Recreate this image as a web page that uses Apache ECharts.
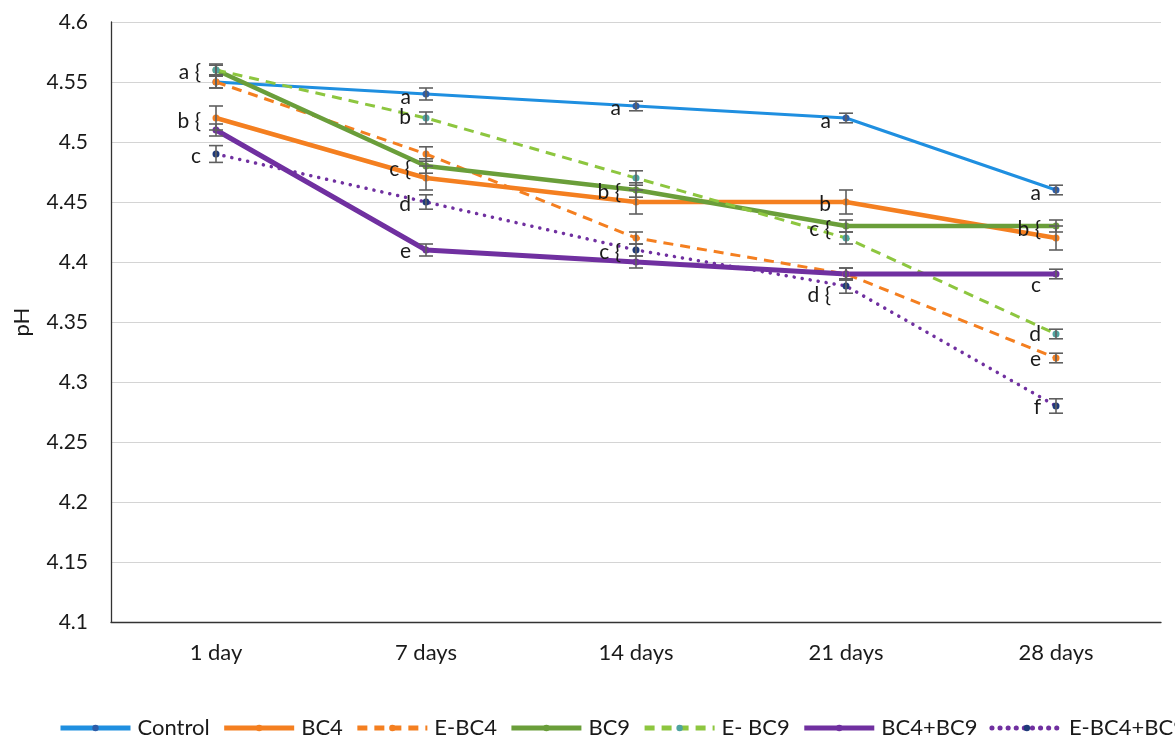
<!DOCTYPE html>
<html><head><meta charset="utf-8">
<script src="https://cdn.jsdelivr.net/npm/echarts@6/dist/echarts.min.js"></script>
<style>html,body{margin:0;padding:0;background:#fff}#c{width:1175px;height:735px}</style>
</head><body><div id="c"></div>
<script>
const categories = ['1 day','7 days','14 days','21 days','28 days'];
const seriesNames = ['Control','BC4','E-BC4','BC9','E- BC9','BC4+BC9','E-BC4+BC9'];
const control   = [4.55, 4.54, 4.53, 4.52, 4.46];
const bc4       = [4.52, 4.47, 4.45, 4.45, 4.42];
const ebc4      = [4.55, 4.49, 4.42, 4.39, 4.32];
const bc9       = [4.56, 4.48, 4.46, 4.43, 4.43];
const ebc9      = [4.56, 4.52, 4.47, 4.42, 4.34];
const bc4bc9    = [4.51, 4.41, 4.40, 4.39, 4.39];
const ebc4bc9   = [4.49, 4.45, 4.41, 4.38, 4.28];
// error (± half-range)
const controlErr = [0.005, 0.005, 0.004, 0.004, 0.004];
const bc4Err     = [0.010, 0.010, 0.010, 0.010, 0.010];
const ebc4Err    = [0.005, 0.006, 0.005, 0.005, 0.004];
const bc9Err     = [0.005, 0.006, 0.006, 0.005, 0.005];
const ebc9Err    = [0.004, 0.005, 0.006, 0.005, 0.004];
const bc4bc9Err  = [0.005, 0.005, 0.005, 0.005, 0.004];
const ebc4bc9Err = [0.007, 0.006, 0.005, 0.006, 0.006];
// significance letters: [category index, y value, text]
const letters = [
  [0, 4.558, 'a {'], [0, 4.5175, 'b {'], [0, 4.488, 'c'],
  [1, 4.5375, 'a'], [1, 4.521, 'b'], [1, 4.4775, 'c {'], [1, 4.448, 'd'], [1, 4.409, 'e'],
  [2, 4.528, 'a'], [2, 4.458, 'b {'], [2, 4.408, 'c {'],
  [3, 4.5175, 'a'], [3, 4.448, 'b'], [3, 4.4275, 'c {'], [3, 4.372, 'd {'],
  [4, 4.4575, 'a'], [4, 4.4275, 'b {'], [4, 4.381, 'c'], [4, 4.34, 'd'], [4, 4.319, 'e'], [4, 4.279, 'f']
];
const yTicks = {min: 4.1, max: 4.6, interval: 0.05};

const values = [control, bc4, ebc4, bc9, ebc9, bc4bc9, ebc4bc9];
const errs = [controlErr, bc4Err, ebc4Err, bc9Err, ebc9Err, bc4bc9Err, ebc4bc9Err];
const styles = [
  {color:'#1F8FE0', width:3, type:'solid', marker:'#2E5DA8'},
  {color:'#F47F20', width:4.5, type:'solid', marker:'#F47F20'},
  {color:'#F47F20', width:3, type:[10,7], marker:'#F47F20'},
  {color:'#6A9E3A', width:4.5, type:'solid', marker:'#6A9E3A'},
  {color:'#8DC63F', width:3, type:[10,7], marker:'#4FA3A0'},
  {color:'#7030A0', width:5, type:'solid', marker:'#7030A0'},
  {color:'#7030A0', width:3.5, type:[0.1,8], marker:'#1F3A7A', cap:'round'}
];
const FONT = 'Lato, "Liberation Sans", sans-serif';
const TXT = '#1a1a1a';

const series = [];
seriesNames.forEach((n,i)=>{
  const s = styles[i];
  series.push({
    name:n, type:'line', data: values[i], symbol:'circle', symbolSize:7,
    lineStyle:{color:s.color, width:s.width, type:s.type, cap:s.cap||'butt'},
    itemStyle:{color:s.marker, borderWidth:0},
    z: 2
  });
});
// error bars
const errData = [];
values.forEach((arr,i)=>arr.forEach((v,j)=>errData.push([j, v, errs[i][j]])));
series.push({
  type:'custom', name:'err', z:5, silent:true,
  data: errData,
  renderItem(params, api){
    const x = api.value(0), v = api.value(1), e = api.value(2);
    const top = api.coord([x, v+e]); const bot = api.coord([x, v-e]);
    const w = 7;
    const st = {stroke:'#5f5f5f', lineWidth:1.6};
    return {type:'group', children:[
      {type:'line', shape:{x1:top[0],y1:top[1],x2:bot[0],y2:bot[1]}, style:st},
      {type:'line', shape:{x1:top[0]-w,y1:top[1],x2:top[0]+w,y2:top[1]}, style:st},
      {type:'line', shape:{x1:bot[0]-w,y1:bot[1],x2:bot[0]+w,y2:bot[1]}, style:st}
    ]};
  }
});
series.push({
  type:'custom', name:'letters', z:6, silent:true,
  data: letters,
  renderItem(params, api){
    const p = api.coord([api.value(0), api.value(1)]);
    return {type:'text', style:{x:p[0]-15, y:p[1], text:letters[params.dataIndex][2],
      fill:TXT, font:'21px '+FONT, textAlign:'right', textVerticalAlign:'middle'}};
  }
});

const chart = echarts.init(document.getElementById('c'));
chart.setOption({
  animation:false,
  backgroundColor:'#fff',
  grid:{left:111, right:14, top:22, bottom:113},
  legend:{data:seriesNames, left:53, top:712, width:1400, itemWidth:70, itemHeight:8, itemGap:12,
    lineStyle:{width:5},
    textStyle:{fontSize:22, color:TXT, fontFamily:FONT, padding:[0,0,0,2]}},
  xAxis:{type:'category', data:categories, boundaryGap:true,
    axisLine:{lineStyle:{color:'#333', width:1.3}}, axisTick:{show:false},
    axisLabel:{fontSize:22, color:TXT, fontFamily:FONT, margin:20}},
  yAxis:{type:'value', min:yTicks.min, max:yTicks.max, interval:yTicks.interval,
    name:'pH', nameLocation:'middle', nameGap:78, nameRotate:90,
    nameTextStyle:{fontSize:22, color:TXT, fontFamily:FONT},
    axisLine:{show:true, lineStyle:{color:'#333', width:1.3}}, axisTick:{show:false},
    splitLine:{lineStyle:{color:'#d4d4d4', width:1.2}},
    axisLabel:{fontSize:21, color:TXT, fontFamily:FONT, margin:23,
      formatter:v=>String(parseFloat(v.toFixed(2)))}},
  series
});
</script></body></html>
